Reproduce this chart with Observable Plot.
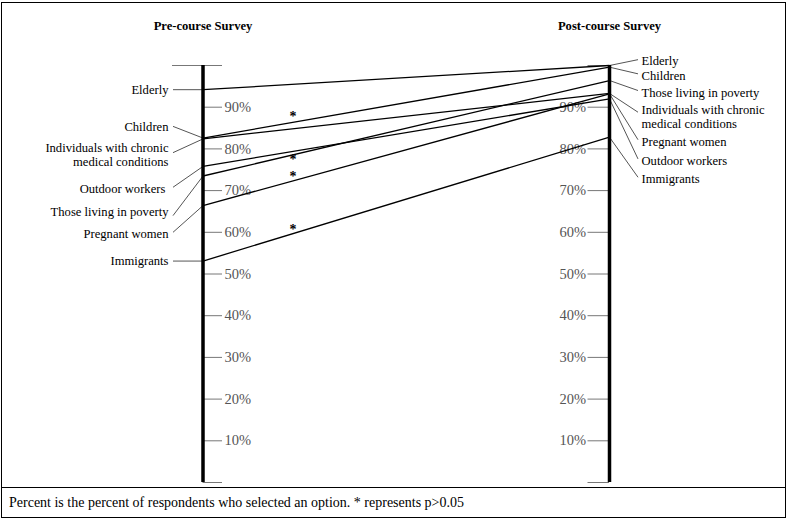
<!DOCTYPE html>
<html>
<head>
<meta charset="utf-8">
<script src="https://cdn.jsdelivr.net/npm/d3@7"></script>
<script src="https://cdn.jsdelivr.net/npm/@observablehq/plot@0.6"></script>
<style>
  body { margin: 0; background: #fff; font-family: "Liberation Serif", "Times New Roman", serif; }
  #fig { position: absolute; left: 1px; top: 2px; width: 783px; border: 1px solid #000; background: #fff; }
  #chart svg { display: block; }
  #cap { border-top: 1px solid #000; height: 29px; line-height: 29px; padding-left: 7px; font-size: 14px; color: #000; white-space: nowrap; }
</style>
</head>
<body>
<div id="fig">
  <div id="chart"></div>
  <div id="cap">Percent is the percent of respondents who selected an option. * represents p&gt;0.05</div>
</div>
<script>
// ---- data ----
const groups = ["Elderly", "Children", "Individuals with chronic\nmedical conditions", "Outdoor workers\u00a0", "Those living in poverty", "Pregnant women", "Immigrants"];
const preValues  = [94.2, 82.6, 82.4, 75.8, 73.5, 66.4, 53.1];
const postValues = [100.0, 99.6, 93.3, 92.0, 96.4, 93.2, 82.8];
const significant = [false, true, false, false, true, true, true];
const surveyLabels = ["Pre-course Survey", "Post-course Survey"];
const tickValues = [0, 10, 20, 30, 40, 50, 60, 70, 80, 90, 100];
const tickLabelValues = [10, 20, 30, 40, 50, 60, 70, 80, 90];

// ---- label layout (positions of the callout labels, in percent units) ----
const leftLabelY   = [94.3, 85.4, 78.7, 70.5, 64.9, 59.6, 53.2];
const leftLeaderY  = [94.2, 85.4, 79.1, 70.8, 64.0, 60.0, 53.1];
const rightLabelY  = [101.2, 97.6, 87.8, 77.2, 93.45, 81.8, 72.8];
const rightLeaderY = [101.4, 98.0, 88.8, 77.6, 94.0, 82.2, 73.2];
const starOffsetPx = [0, -5.5, 0, 0, 5, -4, -4]; // star offset from its line, px

const span = 406.5; // px between the two axes
const pxPerPct = 4.17;
const px = p => p / span;

const data = groups.map((g, i) => ({
  group: g, pre: preValues[i], post: postValues[i], sig: significant[i],
  ly: leftLabelY[i], lly: leftLeaderY[i], ry: rightLabelY[i], rly: rightLeaderY[i], so: starOffsetPx[i]
}));
const tStar = px(90);
const stars = data.filter(d => d.sig).map(d => ({...d, sy: d.pre + tStar * (d.post - d.pre) - d.so / pxPerPct}));

const chart = Plot.plot({
  width: 783,
  height: 484,
  marginTop: 62,
  marginBottom: 5,
  marginLeft: 200.5,
  marginRight: 176,
  x: {domain: [0, 1], axis: null},
  y: {domain: [0, 100], axis: null},
  style: {fontFamily: "Liberation Serif, Times New Roman, serif", fontSize: "12.6px", background: "transparent", color: "#000"},
  marks: [
    // ticks
    Plot.ruleY(tickValues, {y: d => d, x1: 0, x2: px(19.5), stroke: "#777", strokeWidth: 1}),
    Plot.ruleY(tickValues, {y: d => d, x1: 1 - px(21.5), x2: 1, stroke: "#777", strokeWidth: 1}),
    Plot.ruleY([100], {y: d => d, x1: -px(30.5), x2: 0, stroke: "#777", strokeWidth: 1}),
    Plot.text(tickLabelValues, {x: 0, y: d => d, text: d => d + "%", textAnchor: "start", dx: 21.5, fill: "#555", fontSize: 14.5}),
    Plot.text(tickLabelValues, {x: 1, y: d => d, text: d => d + "%", textAnchor: "end", dx: -23.5, fill: "#555", fontSize: 14.5}),
    // leader lines
    Plot.link(data, {x1: -px(30), y1: "lly", x2: 0, y2: "pre", stroke: "#555", strokeWidth: 1}),
    Plot.link(data, {x1: 1, y1: "post", x2: 1 + px(28.5), y2: "rly", stroke: "#555", strokeWidth: 1}),
    // slope lines
    Plot.link(data, {x1: 0, y1: "pre", x2: 1, y2: "post", stroke: "#000", strokeWidth: 1.3}),
    // axes
    Plot.ruleX([0, 1], {x: d => d, y1: 0, y2: 100, stroke: "#000", strokeWidth: 3.5}),
    // labels
    Plot.text(data, {x: 0, y: "ly", text: "group", textAnchor: "end", dx: -34.5, lineAnchor: "middle", fill: "#000", lineHeight: 1.12}),
    Plot.text(data, {x: 1, y: "ry", text: "group", textAnchor: "start", dx: 32, lineAnchor: "middle", fill: "#000", lineHeight: 1.12}),
    // significance stars
    Plot.text(stars, {x: tStar, y: "sy", text: () => "*", fontWeight: "bold", fontSize: 14, lineAnchor: "middle", fill: "#000"}),
    // headers
    Plot.text(surveyLabels, {x: (d, i) => i, text: d => d, frameAnchor: "top", dy: -44, fontWeight: "bold", fontSize: 12.6, fill: "#000"})
  ]
});
document.getElementById("chart").appendChild(chart);
</script>
</body>
</html>
